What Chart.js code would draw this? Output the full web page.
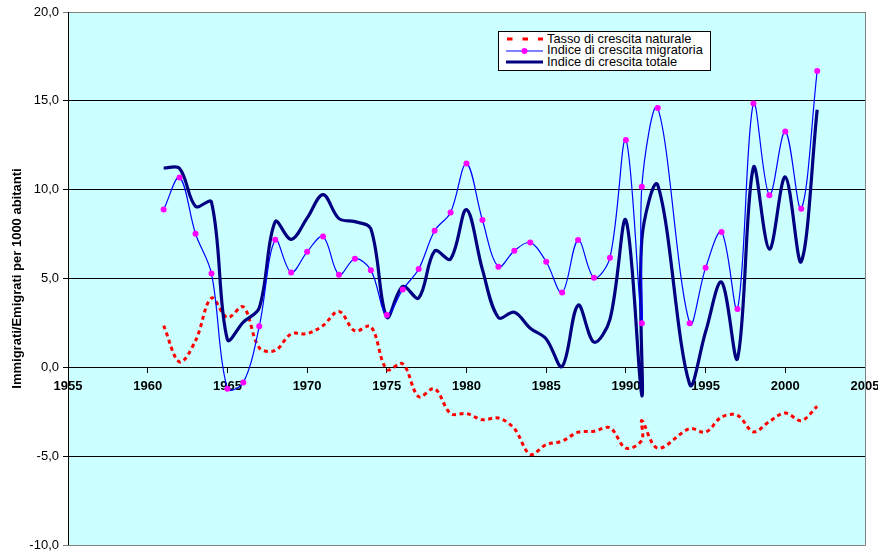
<!DOCTYPE html>
<html><head><meta charset="utf-8">
<script src="https://cdn.jsdelivr.net/npm/chart.js@4.4.1/dist/chart.umd.min.js"></script>
<style>
html,body{margin:0;padding:0;background:#fff;}
#wrap{position:relative;width:878px;height:553px;}
canvas{position:absolute;left:0;top:0;}
#legend{position:absolute;left:498px;top:31px;width:211px;height:38px;border:1px solid #000;background:#fff;font-family:"Liberation Sans",Arial,sans-serif;font-size:12.8px;color:#000;}
.row{position:absolute;left:0;height:12px;width:100%;}
.row svg{position:absolute;left:7px;top:0;}
.row span{position:absolute;left:48px;top:-1.5px;line-height:14px;white-space:nowrap;}
</style></head>
<body>
<div id="wrap"><canvas id="c" width="878" height="553"></canvas>
<div id="legend">
 <div class="row" style="top:1px"><svg width="38" height="12"><line x1="1" y1="6" x2="37" y2="6" stroke="#FF0000" stroke-width="3" stroke-dasharray="5.5,10"/></svg><span id="l0"></span></div>
 <div class="row" style="top:12.5px"><svg width="38" height="12"><line x1="0" y1="6" x2="37" y2="6" stroke="#0000FF" stroke-width="1.2"/><circle cx="18.5" cy="6" r="3" fill="#FF00FF"/></svg><span id="l1"></span></div>
 <div class="row" style="top:24px"><svg width="38" height="12"><line x1="0" y1="6" x2="37" y2="6" stroke="#000080" stroke-width="3"/></svg><span id="l2"></span></div>
</div></div>
<script>
// ---- data ----
const seriesNames = ["Tasso di crescita naturale", "Indice di crescita migratoria", "Indice di crescita totale"];
const yAxisTitle = "Immigrati/Emigrati per 1000 abitanti";
const years = [1961,1962,1963,1964,1965,1966,1967,1968,1969,1970,
               1971,1972,1973,1974,1975,1976,1977,1978,1979,1980,
               1981,1982,1983,1984,1985,1986,1987,1988,1989,1990,
               1991,1991,1992,1994,1995,1996,1997,1998,1999,2000,
               2001,2002];
const natural = [2.35,0.3,1.5,3.9,2.8,3.4,1.1,0.95,1.88,1.9,
                 2.35,3.15,2.05,2.3,-0.12,0.2,-1.65,-1.2,-2.6,-2.6,
                 -2.95,-2.85,-3.45,-4.9,-4.35,-4.15,-3.65,-3.6,-3.4,-4.55,
                 -4.1,-3.0,-4.55,-3.45,-3.65,-2.8,-2.7,-3.63,-3.05,-2.57,
                 -3.0,-2.2];
const migratory = [8.88,10.68,7.52,5.28,-1.2,-0.85,2.31,7.18,5.34,6.5,
                   7.37,5.21,6.11,5.47,2.95,4.38,5.53,7.69,8.72,11.47,
                   8.29,5.66,6.56,7.03,5.94,4.21,7.16,5.04,6.17,12.79,
                   2.48,10.17,14.59,2.48,5.6,7.62,3.29,14.85,9.69,13.28,
                   8.93,16.68];
const total = [11.22,11.19,9.06,9.3,1.56,2.54,3.35,8.2,7.2,8.4,
               9.72,8.37,8.2,7.8,2.82,4.55,3.9,6.55,6.1,8.88,
               5.5,2.8,3.1,2.2,1.6,0.05,3.5,1.42,2.7,8.28,
               -1.6,7.2,10.25,-0.95,2.0,4.8,0.5,11.25,6.65,10.72,
               5.95,14.5];
const xTicks = [1955,1960,1965,1970,1975,1980,1985,1990,1995,2000,2005];
const yTicks = [-10,-5,0,5,10,15,20];

document.getElementById('l0').textContent = seriesNames[0];
document.getElementById('l1').textContent = seriesNames[1];
document.getElementById('l2').textContent = seriesNames[2];

const pts = arr => years.map((x, i) => ({x: x, y: arr[i]}));
const FONT = "'Liberation Sans', Arial, sans-serif";

const bgPlugin = {
  id: 'bg',
  beforeDraw(chart) {
    const a = chart.chartArea, ctx = chart.ctx;
    ctx.save();
    ctx.fillStyle = '#CCFFFF';
    ctx.fillRect(a.left, a.top, a.right - a.left, a.bottom - a.top);
    ctx.restore();
  },
  beforeDatasetsDraw(chart) {
    const a = chart.chartArea, ctx = chart.ctx;
    ctx.save();
    ctx.strokeStyle = '#808080';
    ctx.lineWidth = 1;
    ctx.beginPath();
    ctx.moveTo(a.left, a.bottom + 0.5); ctx.lineTo(a.right + 0.5, a.bottom + 0.5);
    ctx.lineTo(a.right + 0.5, a.top);
    ctx.stroke();
    ctx.strokeStyle = '#000';
    ctx.beginPath();
    ctx.moveTo(a.left + 0.5, a.top); ctx.lineTo(a.left + 0.5, a.bottom);
    ctx.stroke();
    ctx.restore();
  }
};

new Chart(document.getElementById('c'), {
  type: 'line',
  data: {
    datasets: [
      {label: seriesNames[1], data: pts(migratory), borderColor: '#0000FF', borderWidth: 1.2,
       pointRadius: 3, pointBackgroundColor: '#FF00FF', pointBorderWidth: 0, pointHoverRadius: 3, order: 0, tension: 0.35},
      {label: seriesNames[2], data: pts(total), borderColor: '#000080', borderWidth: 3.2,
       pointRadius: 0, order: 1, tension: 0.35},
      {label: seriesNames[0], data: pts(natural), borderColor: '#FF0000', borderWidth: 3,
       borderDash: [4, 3.5], pointRadius: 0, order: 2, tension: 0.35}
    ]
  },
  options: {
    responsive: false,
    animation: false,
    devicePixelRatio: 1,
    layout: {padding: {left: 0, right: 13, top: 12, bottom: 8}},
    plugins: {legend: {display: false}, tooltip: {enabled: false}},
    scales: {
      x: {
        type: 'linear', position: {y: 0}, min: 1955, max: 2005,
        afterBuildTicks: s => { s.ticks = xTicks.map(v => ({value: v})); },
        afterFit: s => { s.paddingLeft = 0; s.paddingRight = 0; s.paddingTop = 0; s.paddingBottom = 0; },
        grid: {display: true, drawOnChartArea: false, drawTicks: true, tickLength: 5, color: '#000'},
        border: {display: true, color: '#000', width: 1},
        ticks: {color: '#000', font: {family: FONT, size: 13, weight: 'bold'}, padding: 6, maxRotation: 0,
                callback: v => String(v)}
      },
      y: {
        type: 'linear', min: -10, max: 20,
        afterBuildTicks: s => { s.ticks = yTicks.map(v => ({value: v})); },
        afterFit: s => { s.width = 68; s.paddingTop = 0; s.paddingBottom = 0; },
        grid: {color: c => (c.tick && (c.tick.value === -10 || c.tick.value === 20)) ? '#808080' : '#000',
               lineWidth: 1, drawTicks: true, tickLength: 5},
        border: {display: true, color: '#000'},
        ticks: {color: '#000', font: {family: FONT, size: 13}, padding: 4,
                callback: v => Number(v).toFixed(1).replace('.', ',')},
        title: {display: true, text: yAxisTitle, color: '#000', font: {family: FONT, size: 13, weight: 'bold'},
                padding: {top: 10, bottom: 0}}
      }
    }
  },
  plugins: [bgPlugin]
});
</script>
</body></html>
